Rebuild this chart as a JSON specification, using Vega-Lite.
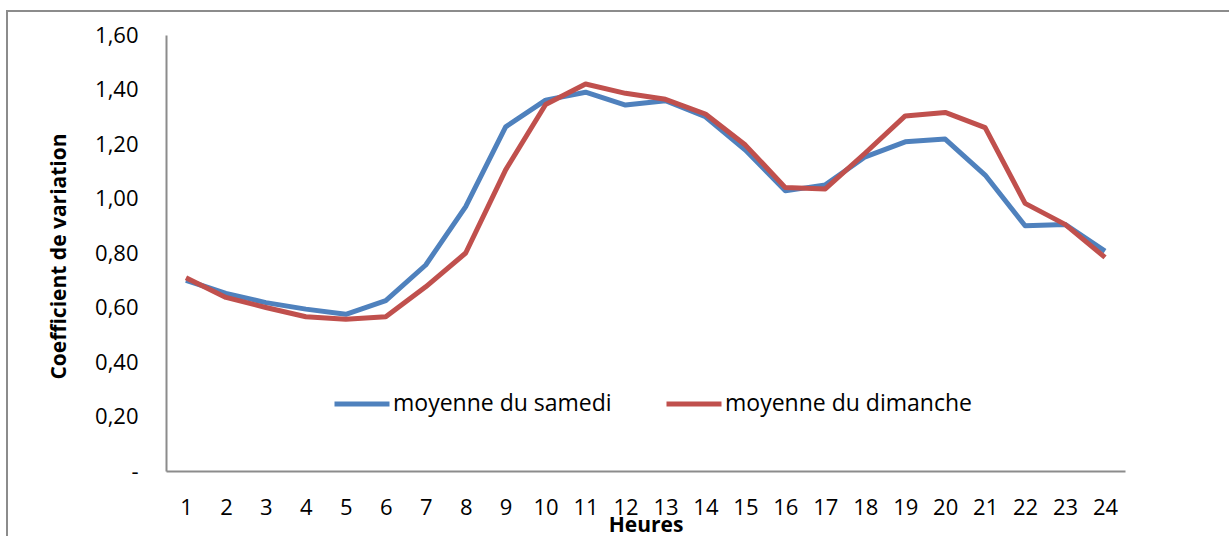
{
  "$schema": "https://vega.github.io/schema/vega-lite/v6.json",
  "autosize": {"type": "none"},
  "padding": {"left": 7, "top": 11, "right": 0, "bottom": 0},
  "width": 1222,
  "height": 525,
  "background": "white",
  "config": {
    "view": {"stroke": "#8c8c8c", "strokeWidth": 2, "strokeDash": [1222, 1747, 525]},
    "font": "Open Sans"
  },
  "data": {
    "values": [
      {"h": 1, "s": "moyenne du samedi", "v": 0.700},
      {"h": 2, "s": "moyenne du samedi", "v": 0.652},
      {"h": 3, "s": "moyenne du samedi", "v": 0.618},
      {"h": 4, "s": "moyenne du samedi", "v": 0.594},
      {"h": 5, "s": "moyenne du samedi", "v": 0.575},
      {"h": 6, "s": "moyenne du samedi", "v": 0.625},
      {"h": 7, "s": "moyenne du samedi", "v": 0.756},
      {"h": 8, "s": "moyenne du samedi", "v": 0.970},
      {"h": 9, "s": "moyenne du samedi", "v": 1.263},
      {"h": 10, "s": "moyenne du samedi", "v": 1.361},
      {"h": 11, "s": "moyenne du samedi", "v": 1.390},
      {"h": 12, "s": "moyenne du samedi", "v": 1.343},
      {"h": 13, "s": "moyenne du samedi", "v": 1.359},
      {"h": 14, "s": "moyenne du samedi", "v": 1.300},
      {"h": 15, "s": "moyenne du samedi", "v": 1.178},
      {"h": 16, "s": "moyenne du samedi", "v": 1.028},
      {"h": 17, "s": "moyenne du samedi", "v": 1.050},
      {"h": 18, "s": "moyenne du samedi", "v": 1.153},
      {"h": 19, "s": "moyenne du samedi", "v": 1.208},
      {"h": 20, "s": "moyenne du samedi", "v": 1.218},
      {"h": 21, "s": "moyenne du samedi", "v": 1.086},
      {"h": 22, "s": "moyenne du samedi", "v": 0.900},
      {"h": 23, "s": "moyenne du samedi", "v": 0.905},
      {"h": 24, "s": "moyenne du samedi", "v": 0.807},
      {"h": 1, "s": "moyenne du dimanche", "v": 0.709},
      {"h": 2, "s": "moyenne du dimanche", "v": 0.637},
      {"h": 3, "s": "moyenne du dimanche", "v": 0.600},
      {"h": 4, "s": "moyenne du dimanche", "v": 0.566},
      {"h": 5, "s": "moyenne du dimanche", "v": 0.557},
      {"h": 6, "s": "moyenne du dimanche", "v": 0.566},
      {"h": 7, "s": "moyenne du dimanche", "v": 0.676},
      {"h": 8, "s": "moyenne du dimanche", "v": 0.800},
      {"h": 9, "s": "moyenne du dimanche", "v": 1.105},
      {"h": 10, "s": "moyenne du dimanche", "v": 1.345},
      {"h": 11, "s": "moyenne du dimanche", "v": 1.420},
      {"h": 12, "s": "moyenne du dimanche", "v": 1.386},
      {"h": 13, "s": "moyenne du dimanche", "v": 1.364},
      {"h": 14, "s": "moyenne du dimanche", "v": 1.310},
      {"h": 15, "s": "moyenne du dimanche", "v": 1.196},
      {"h": 16, "s": "moyenne du dimanche", "v": 1.040},
      {"h": 17, "s": "moyenne du dimanche", "v": 1.035},
      {"h": 18, "s": "moyenne du dimanche", "v": 1.167},
      {"h": 19, "s": "moyenne du dimanche", "v": 1.303},
      {"h": 20, "s": "moyenne du dimanche", "v": 1.316},
      {"h": 21, "s": "moyenne du dimanche", "v": 1.260},
      {"h": 22, "s": "moyenne du dimanche", "v": 0.982},
      {"h": 23, "s": "moyenne du dimanche", "v": 0.905},
      {"h": 24, "s": "moyenne du dimanche", "v": 0.784}
    ]
  },
  "mark": {"type": "line", "strokeWidth": 5, "strokeJoin": "round", "strokeCap": "butt"},
  "encoding": {
    "x": {
      "field": "h",
      "type": "ordinal",
      "scale": {"type": "point", "range": [159, 1118], "padding": 0.5},
      "axis": {
        "title": "Heures",
        "labelAngle": 0,
        "offset": -65,
        "ticks": false,
        "tickSize": 0,
        "grid": false,
        "domainColor": "#8c8c8c",
        "domainWidth": 2,
        "labelFont": "Open Sans",
        "labelFontSize": 22,
        "labelColor": "#000000",
        "labelBaseline": "alphabetic",
        "labelPadding": 43,
        "titleFont": "Open Sans",
        "titleFontSize": 21,
        "titleFontWeight": "bold",
        "titleColor": "#000000",
        "titleBaseline": "alphabetic",
        "titleY": 60
      }
    },
    "y": {
      "field": "v",
      "type": "quantitative",
      "scale": {"domain": [0, 1.6], "range": [460, 24], "nice": false, "zero": true},
      "axis": {
        "title": "Coefficient de variation",
        "values": [0, 0.2, 0.4, 0.6, 0.8, 1.0, 1.2, 1.4, 1.6],
        "labelExpr": "datum.value == 0 ? '-' : replace(format(datum.value, '.2f'), '.', ',')",
        "offset": -159,
        "ticks": false,
        "tickSize": 0,
        "grid": false,
        "domainColor": "#8c8c8c",
        "domainWidth": 2,
        "labelFont": "Open Sans",
        "labelFontSize": 22,
        "labelColor": "#000000",
        "labelPadding": 28,
        "titleFont": "Open Sans",
        "titleFontSize": 21,
        "titleFontWeight": "bold",
        "titleColor": "#000000",
        "titleAngle": -90,
        "titleBaseline": "middle",
        "titleX": -107,
        "titleY": 245
      }
    },
    "color": {
      "field": "s",
      "type": "nominal",
      "sort": ["moyenne du samedi", "moyenne du dimanche"],
      "scale": {"domain": ["moyenne du samedi", "moyenne du dimanche"], "range": ["#4F81BD", "#C0504D"]},
      "legend": {
        "title": null,
        "orient": "none",
        "direction": "horizontal",
        "legendX": 325,
        "legendY": 363,
        "padding": 0,
        "symbolType": "stroke",
        "symbolSize": 3025,
        "symbolStrokeWidth": 5,
        "labelFont": "Open Sans",
        "labelFontSize": 23,
        "labelColor": "#000000",
        "labelOffset": 1,
        "columnPadding": 44,
        "labelLimit": 400
      }
    }
  }
}
